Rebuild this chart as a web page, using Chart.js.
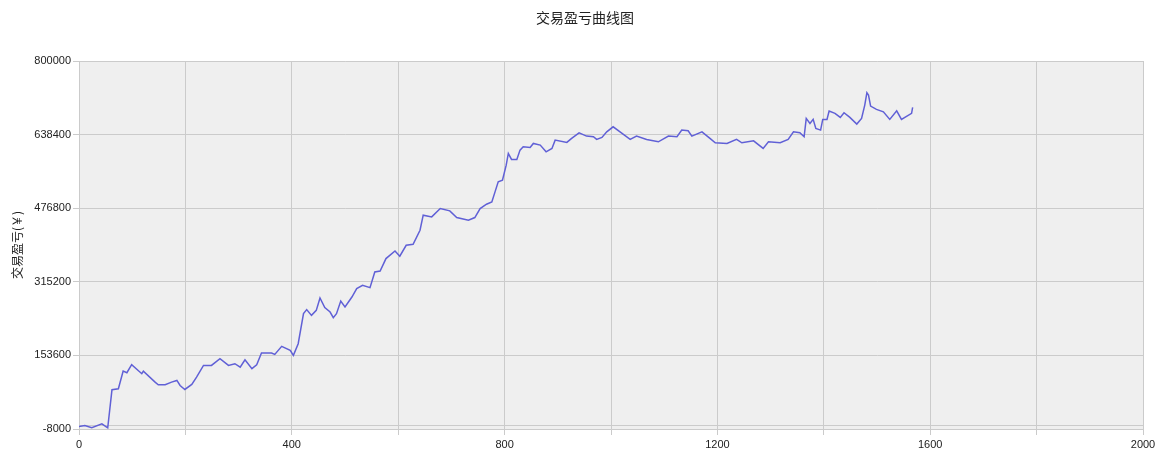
<!DOCTYPE html>
<html>
<head>
<meta charset="utf-8">
<script src="https://cdn.jsdelivr.net/npm/chart.js@4"></script>
<style>
  html, body { margin: 0; padding: 0; background: #fff; }
  #wrap { width: 1170px; height: 454px; }
</style>
</head>
<body>
<div id="wrap"><canvas id="pnlChart"></canvas></div>
<script>
// Trade index (x)
const tradeIdx = [
  0, 11, 24, 43, 54, 62, 74, 83, 90, 99,
  118, 121, 143, 149, 162, 174, 184, 190, 199, 212,
  221, 234, 249, 265, 281, 293, 303, 312, 325, 334,
  343, 362, 368, 381, 397, 403, 412, 422, 428, 437,
  446, 453, 462, 472, 478, 484, 492, 500, 513, 522,
  533, 547, 556, 566, 577, 594, 603, 615, 628, 641,
  647, 663, 679, 697, 710, 732, 744, 754, 766, 776,
  782, 788, 796, 803, 807, 813, 823, 829, 835, 848,
  854, 867, 878, 889, 895, 917, 926, 940, 954, 967,
  973, 983, 992, 1004, 1017, 1036, 1048, 1067, 1089, 1108,
  1124, 1133, 1145, 1152, 1171, 1186, 1196, 1218, 1236, 1246,
  1268, 1286, 1296, 1318, 1333, 1343, 1355, 1363, 1367, 1374,
  1380, 1385, 1394, 1398, 1406, 1410, 1421, 1431, 1438, 1449,
  1462, 1471, 1477, 1481, 1484, 1488, 1499, 1512, 1524, 1537,
  1546, 1565, 1567
];

// Cumulative profit/loss (yuan)
const pnl = [
  -2500, -300, -5400, 3400, -5400, 78200, 80400, 119100, 115600, 133100,
  113400, 119100, 94900, 89200, 89200, 94900, 98600, 87600, 78800, 89800,
  105900, 131600, 131600, 146300, 131600, 135300, 127900, 144100, 124400, 133100,
  158700, 158700, 155800, 173400, 164600, 153600, 179300, 245300, 254100, 241500,
  252500, 279600, 258500, 248800, 236500, 245300, 273000, 259800, 281800, 300200,
  307500, 302400, 336700, 338900, 366200, 382900, 371300, 395400, 397600, 428400,
  461400, 457700, 476100, 470900, 456300, 450400, 456300, 476100, 485600, 490600,
  512600, 534600, 538400, 571300, 597100, 583900, 583900, 604300, 611600, 610200,
  619000, 615300, 600600, 608000, 626300, 621200, 630000, 642300, 635100, 633600,
  627800, 632200, 644500, 655500, 644500, 627800, 635100, 627800, 622600, 635100,
  633600, 648300, 646700, 635100, 644500, 630000, 620400, 619000, 627800, 620400,
  624800, 608000, 622600, 620400, 627800, 644500, 642300, 633600, 674000, 663000,
  671800, 652000, 648300, 671800, 671800, 690100, 685000, 676200, 686300, 676200,
  661500, 674000, 703200, 730300, 725200, 701000, 693800, 688500, 671800, 690700,
  671800, 685000, 698200
];

const xTicks = [0, 200, 400, 600, 800, 1000, 1200, 1400, 1600, 1800, 2000];
const xLabelStep = 400;
const yTicks = [-8000, 153600, 315200, 476800, 638400, 800000];

const chartTitle = '交易盈亏曲线图';
const yAxisTitle = '交易盈亏(￥)';

const GRID = '#cbcbcb';
const LINE = '#6060d6';

// Gray plot background, zero line and a title centred on the whole canvas
const plotDecor = {
  id: 'plotDecor',
  beforeDraw(chart) {
    const { ctx, chartArea: a } = chart;
    ctx.save();
    ctx.fillStyle = '#efefef';
    ctx.fillRect(a.left, a.top, a.right - a.left, a.bottom - a.top);
    ctx.restore();
  },
  beforeDatasetsDraw(chart) {
    const { ctx, chartArea: a, scales } = chart;
    const y0 = Math.round(scales.y.getPixelForValue(0)) + 0.5;
    ctx.save();
    ctx.strokeStyle = GRID;
    ctx.lineWidth = 1;
    ctx.beginPath();
    ctx.moveTo(a.left, y0);
    ctx.lineTo(a.right, y0);
    ctx.stroke();
    ctx.restore();
  },
  afterDraw(chart) {
    const ctx = chart.ctx;
    ctx.save();
    ctx.fillStyle = '#222';
    ctx.font = '14px "Noto Sans CJK SC"';
    ctx.textAlign = 'center';
    ctx.textBaseline = 'middle';
    ctx.fillText(chartTitle, chart.width / 2, 18);
    ctx.restore();
  }
};

const points = tradeIdx.map((x, i) => ({ x: x, y: pnl[i] }));

new Chart(document.getElementById('pnlChart'), {
  type: 'line',
  data: {
    datasets: [{
      data: points,
      borderColor: LINE,
      borderWidth: 1.5,
      pointRadius: 0,
      tension: 0,
      fill: false
    }]
  },
  options: {
    responsive: true,
    maintainAspectRatio: false,
    animation: false,
    layout: { padding: { left: 0, right: 27, top: 61, bottom: 0 } },
    plugins: {
      legend: { display: false },
      tooltip: { enabled: false },
      title: { display: false }
    },
    scales: {
      x: {
        type: 'linear',
        min: 0,
        max: 2000,
        afterBuildTicks: scale => { scale.ticks = xTicks.map(v => ({ value: v })); },
        afterFit: scale => { scale.height = 25; },
        ticks: {
          autoSkip: false,
          maxRotation: 0,
          padding: 3,
          color: '#222',
          font: { family: 'Liberation Sans', size: 11 },
          callback: v => (v % xLabelStep === 0 ? String(v) : '')
        },
        grid: { color: GRID, tickLength: 6, tickColor: GRID },
        border: { color: GRID }
      },
      y: {
        min: -8000,
        max: 800000,
        afterBuildTicks: scale => { scale.ticks = yTicks.map(v => ({ value: v })); },
        afterFit: scale => { scale.width = 79; },
        ticks: {
          autoSkip: false,
          padding: 2,
          color: '#222',
          font: { family: 'Liberation Sans', size: 11 },
          callback: v => String(v)
        },
        grid: { color: GRID, tickLength: 6, tickColor: GRID },
        border: { color: GRID },
        title: {
          display: true,
          text: yAxisTitle,
          color: '#222',
          font: { family: 'Noto Sans CJK SC', size: 12 },
          padding: { top: 10, bottom: 0 }
        }
      }
    }
  },
  plugins: [plotDecor]
});
</script>
</body>
</html>
